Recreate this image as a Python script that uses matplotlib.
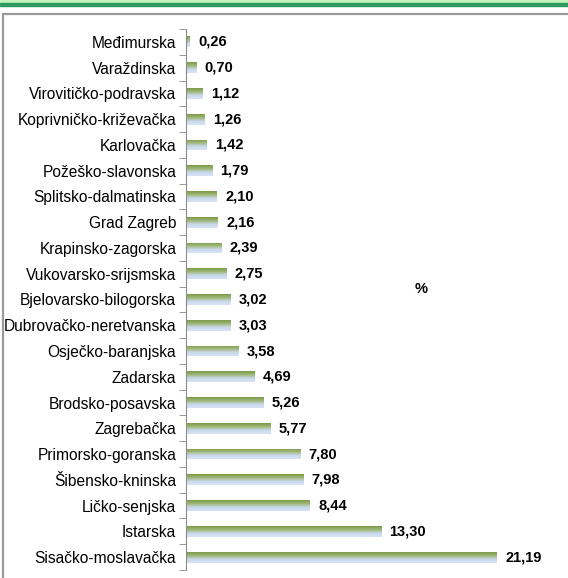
import numpy as np
import matplotlib.pyplot as plt
from matplotlib.patches import Rectangle
from matplotlib.colors import LinearSegmentedColormap

zupanije = [
    "Međimurska", "Varaždinska", "Virovitičko-podravska", "Koprivničko-križevačka",
    "Karlovačka", "Požeško-slavonska", "Splitsko-dalmatinska", "Grad Zagreb",
    "Krapinsko-zagorska", "Vukovarsko-srijsmska", "Bjelovarsko-bilogorska",
    "Dubrovačko-neretvanska", "Osječko-baranjska", "Zadarska", "Brodsko-posavska",
    "Zagrebačka", "Primorsko-goranska", "Šibensko-kninska", "Ličko-senjska",
    "Istarska", "Sisačko-moslavačka",
]
postotak = [0.26, 0.70, 1.12, 1.26, 1.42, 1.79, 2.10, 2.16, 2.39, 2.75, 3.02,
            3.03, 3.58, 4.69, 5.26, 5.77, 7.80, 7.98, 8.44, 13.30, 21.19]

plt.rcParams['font.family'] = ['Liberation Sans', 'DejaVu Sans']

W, H = 568, 578
fig = plt.figure(figsize=(W / 100, H / 100), dpi=100)

# okvir i zelena traka na vrhu
fig.patches.append(Rectangle((0, 1 - 4 / H), 1, 4 / H, transform=fig.transFigure,
                             color='#c6f2c0', zorder=0))
fig.patches.append(Rectangle((0, 1 - 6 / H), 1, 2.5 / H, transform=fig.transFigure,
                             color='#2e9a5e', zorder=0))
fig.patches.append(Rectangle((2.5 / W, -0.1), 1.2, 1 - 14 / H + 0.1, transform=fig.transFigure,
                             fill=False, edgecolor='#9a9a9a', linewidth=1.6, zorder=0))

ax = fig.add_axes([186 / W, 8 / H, 374 / W, 541 / H])
y = np.arange(len(zupanije))
bars = ax.barh(y, postotak, height=0.42, color='none')

cmap = LinearSegmentedColormap.from_list('g', ['#7a9a48', '#9fb878', '#c9d9ee', '#d8e4f4'])
grad = np.linspace(0, 1, 64).reshape(-1, 1)
for b in bars:
    x0, y0, w, h = b.get_x(), b.get_y(), b.get_width(), b.get_height()
    im = ax.imshow(grad, cmap=cmap, aspect='auto', extent=(x0, x0 + w, y0 + h, y0),
                   zorder=2)
    im.set_clip_path(b)

for yi, v in zip(y, postotak):
    ax.annotate(f"{v:.2f}".replace('.', ','), (v, yi), xytext=(6, 0),
                textcoords='offset points', va='center', ha='left',
                fontsize=10.5, fontweight='bold')

ax.set_xlim(0, 25.5)
ax.set_ylim(len(zupanije) - 0.5, -0.5)
ax.set_yticks(y)
ax.set_yticklabels(zupanije, fontsize=11.2)
ax.set_yticks(np.arange(len(zupanije) + 1) - 0.5, minor=True)
ax.tick_params(axis='y', which='major', length=0, pad=7)
ax.tick_params(axis='y', which='minor', length=5, color='#8c8c8c', direction='out')
ax.set_xticks([])
for s in ['top', 'right', 'bottom']:
    ax.spines[s].set_visible(False)
ax.spines['left'].set_color('#8c8c8c')
ax.text(0.63, 0.52, '%', transform=ax.transAxes, fontsize=10.5, fontweight='bold',
        ha='center', va='center')

fig.savefig('out.png', dpi=100)
